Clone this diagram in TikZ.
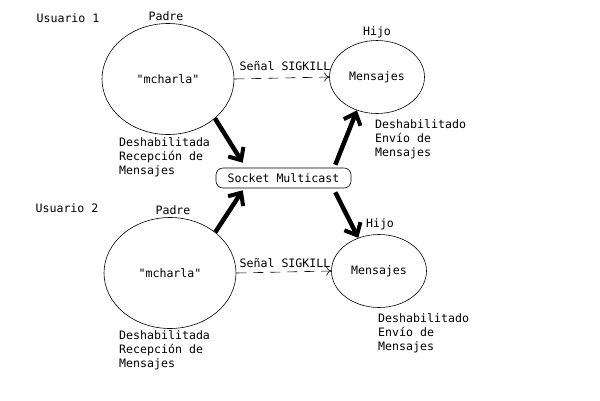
\documentclass[tikz,border=0pt]{standalone}
\usepackage{fontspec}
\setmonofont{DejaVu Sans Mono}
\usetikzlibrary{shapes.geometric,arrows.meta}
\begin{document}
\begin{tikzpicture}[x=1pt,y=-1pt,
  every node/.style={font=\ttfamily\fontsize{11.6}{14}\selectfont, inner sep=0pt},
  padre/.style={draw, ellipse, minimum width=132pt, minimum height=111pt, line width=0.6pt},
  hijo/.style={draw, ellipse, minimum width=95pt, minimum height=73pt, line width=0.6pt},
  lbl/.style={align=left, anchor=north west},
  big/.style={line width=4.5pt, -{Straight Barb[length=10pt,width=18pt,line width=4pt]}},
  sig/.style={dash pattern=on 10pt off 7pt, line width=0.6pt, -{To[length=5pt,width=9pt]}}]
\useasboundingbox (0,0) rectangle (600,400);

% Usuario 1
\node (u1) at (68,18) {Usuario 1};
\node (pa1) at (166,16) {Padre};
\node[padre] (p1) at (168,79) {"mcharla"};
\node[hijo] (h1) at (377,77) {Mensajes};
\node (hi1) at (377,32) {Hijo};
\node (s1) at (285,66) {Señal SIGKILL};
\node[lbl] (d1) at (119,137) {Deshabilitada\\Recepción de\\Mensajes};
\node[lbl] (e1) at (375,119) {Deshabilitado\\Envío de\\Mensajes};

% Socket
\node[draw, rounded corners=7pt, minimum width=135pt, minimum height=20pt, line width=0.6pt] (sock) at (283.5,178) {Socket Multicast};

% Usuario 2
\node (u2) at (67,208) {Usuario 2};
\node (pa2) at (173,210) {Padre};
\node[padre] (p2) at (170,273) {"mcharla"};
\node[hijo] (h2) at (379,271) {Mensajes};
\node (hi2) at (380,224) {Hijo};
\node (s2) at (285,263) {Señal SIGKILL};
\node[lbl] (d2) at (119,330) {Deshabilitada\\Recepción de\\Mensajes};
\node[lbl] (e2) at (378,313) {Deshabilitado\\Envío de\\Mensajes};

% dashed signals
\draw[sig] (p1.east) -- (h1.west);
\draw[sig] (p2.east) -- (h2.west);

% thick arrows
\draw[big] (p1.-40) -- ([xshift=27pt,yshift=5pt]sock.north west);
\draw[big] (p2.42) -- ([xshift=27pt,yshift=-2pt]sock.south west);
\draw[big] ([xshift=-16pt,yshift=3pt]sock.north east) -- (h1.-121);
\draw[big] ([xshift=-16pt,yshift=-4pt]sock.south east) -- (h2.122);
\end{tikzpicture}
\end{document}
